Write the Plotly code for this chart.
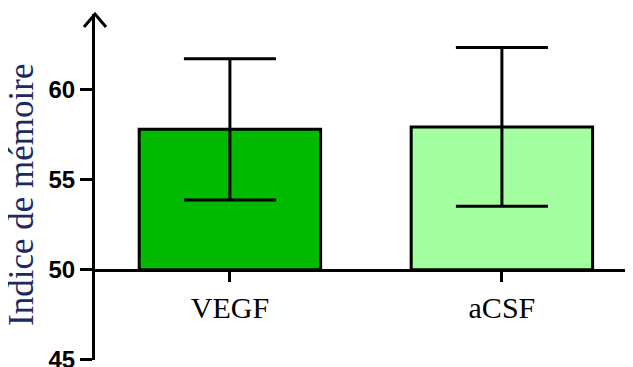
import plotly.graph_objects as go

# data
groups = ['VEGF', 'aCSF']
means = [57.8, 57.93]
sem = [3.92, 4.41]
bar_colors = ['#00bb00', '#a3ffa0']

y_base = 50
y_min, y_max = 45, 64.2
y_ticks = [45, 50, 55, 60]

fig = go.Figure()

fig.add_trace(go.Bar(
    x=groups,
    y=[m - y_base for m in means],
    base=y_base,
    width=0.667,
    marker=dict(color=bar_colors, line=dict(color='black', width=3)),
    error_y=dict(type='data', array=sem, color='black', thickness=3, width=46),
    showlegend=False
))

# open arrow head on top of the y axis
fig.add_shape(
    type='path',
    xref='paper', yref='paper',
    xsizemode='pixel', ysizemode='pixel',
    xanchor=0, yanchor=1,
    path='M -11 -13 L 0 0 L 11 -13',
    line=dict(color='black', width=3)
)

# y title as an annotation so it can sit a bit lower than the domain centre
fig.add_annotation(
    text='Indice de mémoire',
    xref='paper', yref='paper', x=0, y=0.477,
    xanchor='center', yanchor='middle',
    xshift=-73, textangle=-90, showarrow=False,
    font=dict(family='Liberation Serif', size=35, color='#1c2a5e')
)

# page body keeps its default 8px margin, so the figure is sized to fit
fig.update_layout(
    width=625,
    height=359,
    margin=dict(l=87, r=0, t=6, b=7),
    paper_bgcolor='white',
    plot_bgcolor='white',
    xaxis=dict(
        range=[-0.496, 1.482],
        anchor='free',
        position=(y_base - y_min) / (y_max - y_min),
        automargin=False,
        showline=True, linecolor='black', linewidth=3,
        ticks='outside', ticklen=10, tickwidth=3, tickcolor='black',
        tickfont=dict(family='Liberation Serif', size=30, color='black'),
        showgrid=False, zeroline=False
    ),
    yaxis=dict(
        range=[y_min - 0.01, y_max],
        tickvals=y_ticks,
        automargin=False,
        ticklabeloverflow='allow',
        showline=True, linecolor='black', linewidth=3,
        ticks='outside', ticklen=12, tickwidth=3, tickcolor='black',
        tickfont=dict(family='Liberation Sans', size=24, color='black', weight='bold'),
        showgrid=False, zeroline=False
    )
)

fig.write_html('out.html')
